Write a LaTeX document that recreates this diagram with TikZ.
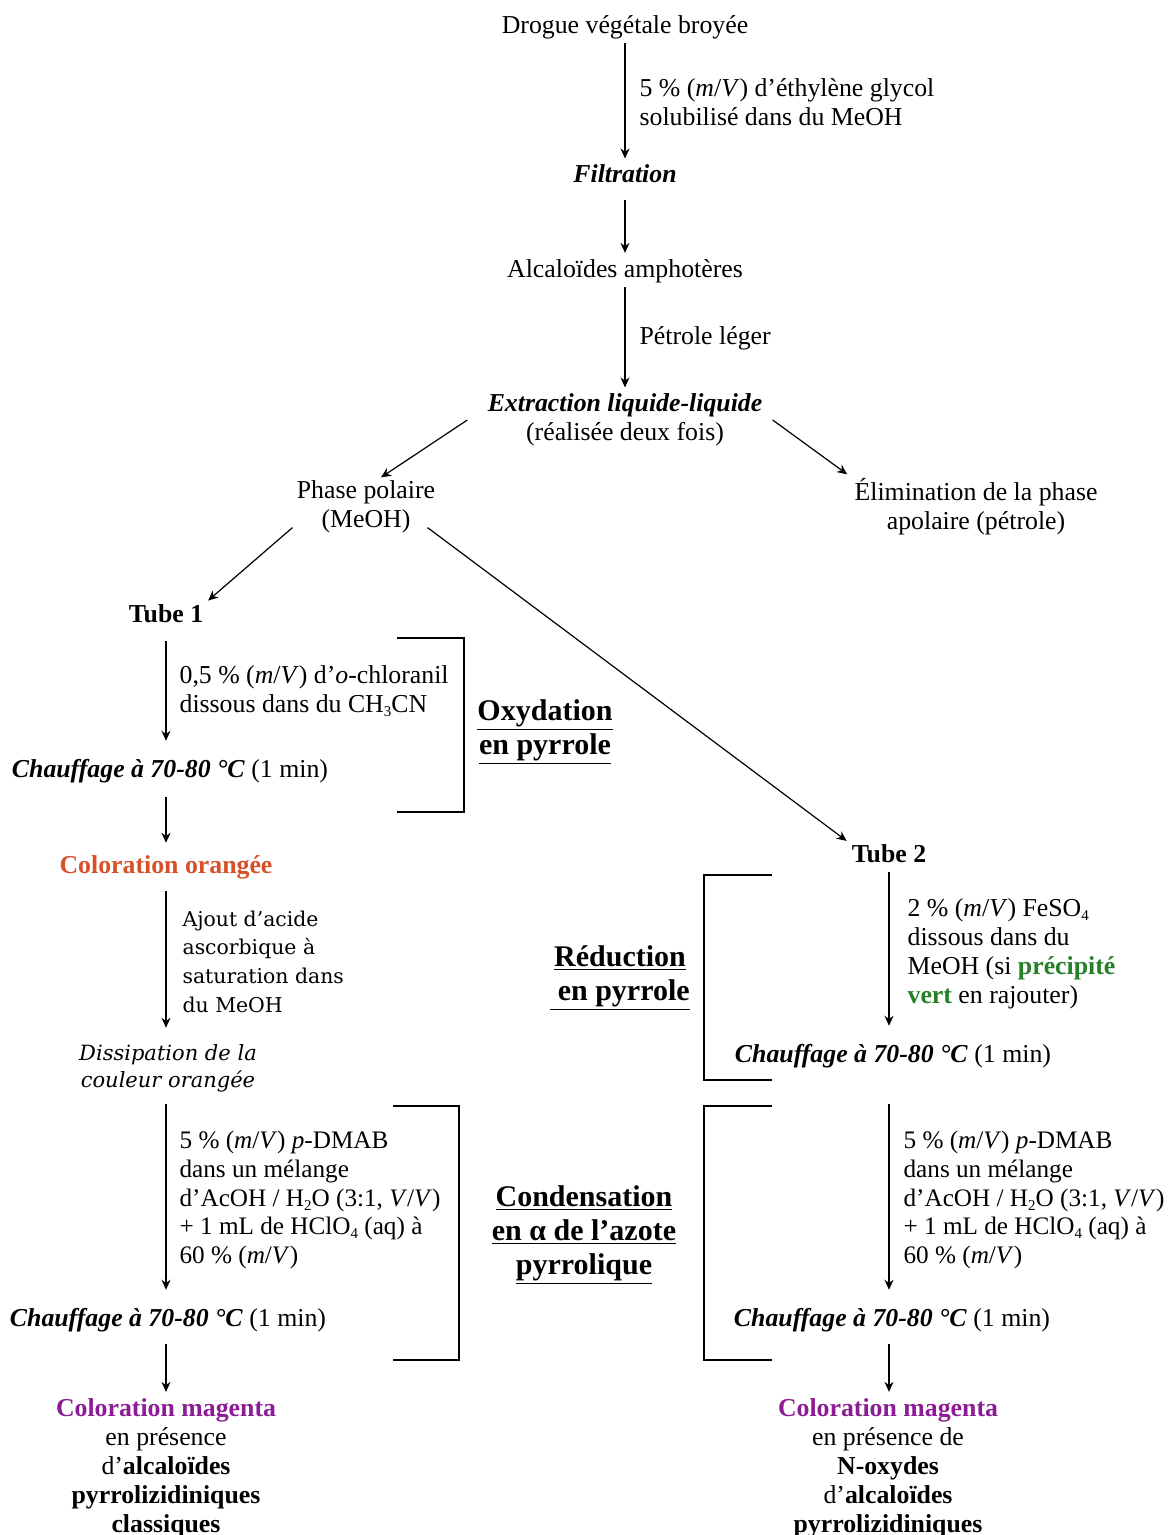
\documentclass[tikz,border=0pt]{standalone}
\usepackage{fontspec}
\setmainfont{Liberation Serif}
\newfontfamily\dvserif{DejaVu Serif}
\usetikzlibrary{arrows.meta,calc,positioning}

\definecolor{orangecol}{RGB}{214,80,42}
\definecolor{magentacol}{RGB}{140,28,150}
\definecolor{vertcol}{RGB}{38,128,40}

\newcommand{\mV}{(\textit{m}/\textit{V})}
\newcommand{\sub}[1]{\raisebox{-0.35ex}{\fontsize{7.5}{7.5}\selectfont #1}}
\newcommand{\chauffage}{\textbf{\textit{Chauffage à 70-80 °C}} (1 min)}
\newcommand{\dmab}{5 \% \mV{} \textit{p}-DMAB\\dans un mélange\\d’AcOH / H\sub{2}O (3:1, \textit{V}/\textit{V})\\+ 1 mL de HClO\sub{4} (aq) à\\60 \% \mV}

\begin{document}
\begin{tikzpicture}[
    x=0.5pt, y=-0.5pt,
    every node/.style={font=\fontsize{12.9}{14.5}\selectfont, inner sep=0pt},
    txt/.style={align=center},
    lbl/.style={right=7pt, align=left},
    dmablbl/.style={lbl, font=\fontsize{12.6}{14.4}\selectfont},
    title/.style={align=center, font=\fontsize{15}{17}\selectfont\bfseries},
    arrow/.style={-{Stealth[length=5pt,width=4.5pt]}, line width=0.6pt, shorten <=3pt, shorten >=3pt},
    bracket/.style={line width=1.2pt}
]
\useasboundingbox (0,0) rectangle (1168,1535);

% tronc commun
\node[txt] (drogue) at (625,27) {Drogue végétale broyée};
\node[txt] (filtr) at (625,174) {\textbf{\textit{Filtration}}};
\node[txt] (alca) at (625,271) {Alcaloïdes amphotères};
\node[txt] (extr) at (625,420) {\textbf{\textit{Extraction liquide-liquide}}\\(réalisée deux fois)};
\node[txt] (polaire) at (366,507) {Phase polaire\\(MeOH)};
\node[txt] (elim) at (976,507) {Élimination de la phase\\apolaire (pétrole)};

\draw[arrow, shorten <=2pt] (drogue) -- node[lbl] {5 \% \mV{} d’éthylène glycol\\solubilisé dans du MeOH} (filtr);
\draw[arrow, shorten <=8.5pt] (filtr) -- (alca);
\draw[arrow, shorten <=2pt] (alca) -- node[lbl] {Pétrole léger} (extr);
\draw[arrow, shorten >=0pt, shorten <=0pt] ($(extr.west)+(-20,0)$) -- ($(polaire.north)+(15,-3)$);
\draw[arrow, shorten >=0pt, shorten <=0pt] ($(extr.east)+(10,0)$) -- ($(elim.north west)+(-7,-4)$);

% tube 1
\node[txt] (tube1) at (166,614) {\textbf{Tube 1}};
\node[txt] (chauf1) at (170,771) {\chauffage};
\node[txt] (orange) at (166,867) {\textcolor{orangecol}{\textbf{Coloration orangée}}};
\node[txt, font=\dvserif\fontsize{10.5}{13.5}\selectfont\itshape] (dissip) at (168,1068) {Dissipation de la\\couleur orangée};
\node[txt] (chauf2) at (168,1320) {\chauffage};
\node[txt] (magL) at (166,1468) {\textcolor{magentacol}{\textbf{Coloration magenta}}\\en présence\\d’\textbf{alcaloïdes}\\\textbf{pyrrolizidiniques}\\\textbf{classiques}};

\draw[arrow, shorten <=0pt] ($(polaire.south west)+(-4,-6)$) -- (tube1.north east);
\draw[arrow, shorten <=8.5pt, shorten >=9pt] (tube1) -- node[lbl, right=6.5pt] {0,5 \% \mV{} d’\textit{o}-chloranil\\dissous dans du CH\sub{3}CN} (tube1 |- chauf1.north);
\draw[arrow, shorten <=7pt, shorten >=6pt] (tube1 |- chauf1.south) -- (tube1 |- orange.north);
\draw[arrow, shorten <=6pt, shorten >=8pt] (tube1 |- orange.south) -- node[lbl, right=8pt, font=\dvserif\fontsize{10.2}{14.3}\selectfont] {Ajout d’acide\\ascorbique à\\saturation dans\\du MeOH} (tube1 |- dissip.north);
\draw[arrow, shorten <=6pt, shorten >=9pt] (tube1 |- dissip.south) -- node[dmablbl, right=6.5pt, pos=0.5] {\dmab} (tube1 |- chauf2.north);
\draw[arrow, shorten <=6pt] (tube1 |- chauf2.south) -- (tube1 |- magL.north);

% tube 2
\node[txt] (tube2) at (889,854) {\textbf{Tube 2}};
\node[txt] (chauf3) at (893,1056) {\chauffage};
\node[txt] (chauf4) at (892,1320) {\chauffage};
\node[txt] (magR) at (888,1468) {\textcolor{magentacol}{\textbf{Coloration magenta}}\\en présence de\\\textbf{N-oxydes}\\d’\textbf{alcaloïdes}\\\textbf{pyrrolizidiniques}};

\draw[arrow, shorten <=0pt] ($(polaire.south east)+(-8,-6)$) -- (tube2.north west);
\draw[arrow, shorten <=4pt, shorten >=9pt] (tube2) -- node[lbl, right=9pt] {2 \% \mV{} FeSO\sub{4}\\dissous dans du\\MeOH (si \textcolor{vertcol}{\textbf{précipité}}\\\textcolor{vertcol}{\textbf{vert}} en rajouter)} (tube2 |- chauf3.north);
\draw[arrow, shorten <=18pt, shorten >=9pt] (tube2 |- chauf3.south) -- node[dmablbl, pos=0.55] {\dmab} (tube2 |- chauf4.north);
\draw[arrow, shorten <=6pt] (tube2 |- chauf4.south) -- (tube2 |- magR.north);

% accolades
\draw[bracket] (397,638) -- (464,638) -- (464,812) -- (397,812);
\draw[bracket] (393,1106) -- (459,1106) -- (459,1360) -- (393,1360);
\draw[bracket] (772,875) -- (704,875) -- (704,1080) -- (772,1080);
\draw[bracket] (772,1106) -- (704,1106) -- (704,1360) -- (772,1360);

\node[title] (oxy) at (545,732) {\underline{Oxydation}\\\underline{en pyrrole}};
\node[title] (red) at (620,978) {\underline{Réduction}\\\underline{ en pyrrole}};
\node[title] (cond) at (584,1235) {\underline{Condensation}\\\underline{en α de l’azote}\\\underline{pyrrolique}};
\end{tikzpicture}
\end{document}
